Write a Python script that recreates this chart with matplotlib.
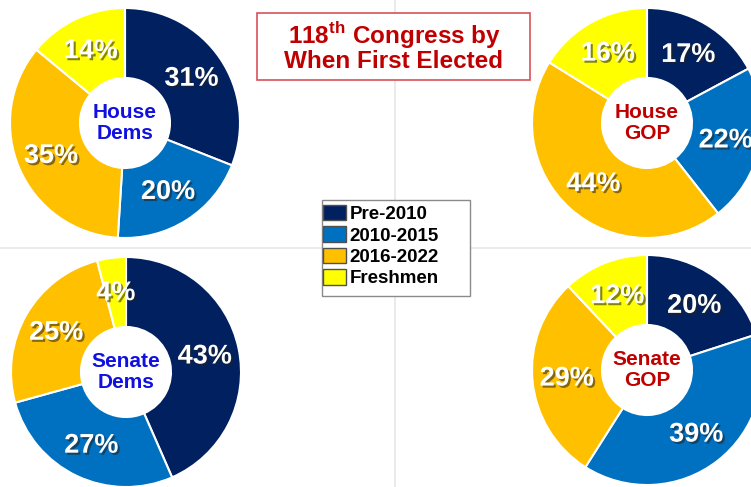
import matplotlib
matplotlib.use("Agg")
import matplotlib.pyplot as plt
import matplotlib.patheffects as pe
from matplotlib.patches import Patch, Rectangle
import numpy as np

plt.rcParams['font.family'] = ['Liberation Sans', 'DejaVu Sans']
plt.rcParams['mathtext.fontset'] = 'custom'
plt.rcParams['mathtext.rm'] = 'Liberation Sans:bold'
plt.rcParams['mathtext.bf'] = 'Liberation Sans:bold'

# ---- data ----
categories = ["Pre-2010", "2010-2015", "2016-2022", "Freshmen"]
colors = ["#002060", "#0070C0", "#FFC000", "#FFFF00"]

house_dems = [31, 20, 35, 14]
house_gop = [17, 22, 44, 16]
senate_dems = [43, 27, 25, 4]
senate_gop = [20, 39, 29, 12]

groups = ["House\nDems", "House\nGOP", "Senate\nDems", "Senate\nGOP"]
group_values = [house_dems, house_gop, senate_dems, senate_gop]
group_label_colors = ["#1010E0", "#C00000", "#1010E0", "#C00000"]

title_line1 = r"118$^{\mathbf{th}}$ Congress by"
title_line2 = "When First Elected"

# ---- layout (pixels) ----
W, H = 751, 487
centers = [(125, 123), (647, 123), (126, 372), (647, 370)]
R = 115
HOLE = 45

fig = plt.figure(figsize=(W / 100, H / 100), dpi=100)
fig.patch.set_facecolor("white")
ax = fig.add_axes([0, 0, 1, 1])


def Y(py):
    return H - py


# faint quadrant gridlines
ax.plot([395, 395], [Y(0), Y(H)], color="#e6e6e6", lw=1.2, zorder=0)
ax.plot([0, W], [Y(248), Y(248)], color="#e6e6e6", lw=1.2, zorder=0)

shadow = [pe.withSimplePatchShadow(offset=(1.5, -1.5), shadow_rgbFace="#202020", alpha=0.55)]

for vals, (cx, cy), name, ncol in zip(group_values, centers, groups, group_label_colors):
    wedges, _ = ax.pie(vals, colors=colors, startangle=90, counterclock=False,
                       center=(cx, Y(cy)), radius=R, normalize=True,
                       wedgeprops=dict(width=R - HOLE, edgecolor="white", linewidth=1.5))
    for w, v in zip(wedges, vals):
        ang = np.deg2rad((w.theta1 + w.theta2) / 2)
        rr = 0.70 * R
        ax.text(cx + rr * np.cos(ang), Y(cy) + rr * np.sin(ang) - 1, f"{v}%",
                color="white", fontsize=19.5, fontweight="bold",
                ha="center", va="center", path_effects=shadow, zorder=5)
    ax.text(cx, Y(cy), name, color=ncol, fontsize=15, fontweight="bold",
            ha="center", va="center", linespacing=1.1, zorder=5)

ax.set_xlim(0, W)
ax.set_ylim(0, H)
ax.set_aspect("equal")
ax.axis("off")

# title box
ax.add_patch(Rectangle((257, Y(80)), 273, 67, facecolor="white",
                       edgecolor="#d9505a", linewidth=1.2, zorder=3))
ax.text(394, Y(35), title_line1, color="#C00000", fontsize=17.5, fontweight="bold",
        ha="center", va="center", zorder=4)
ax.text(394, Y(61), title_line2, color="#C00000", fontsize=17.5, fontweight="bold",
        ha="center", va="center", zorder=4)

# legend box + legend
ax.add_patch(Rectangle((322, Y(296)), 148, 96, facecolor="white",
                       edgecolor="#8a8a8a", linewidth=1.0, zorder=3))
handles = [Patch(facecolor=c, edgecolor="#505050", linewidth=1) for c in colors]
leg = ax.legend(handles, categories, loc="upper left",
                bbox_to_anchor=(321 / W, 1 - 203 / H), bbox_transform=fig.transFigure,
                frameon=False, prop=dict(weight="bold", size=13.5),
                handlelength=1.23, handleheight=0.9,
                handletextpad=0.18, labelspacing=0.17, borderpad=0.1, borderaxespad=0)
leg.set_zorder(6)

fig.savefig("out.png", dpi=100, facecolor="white")
